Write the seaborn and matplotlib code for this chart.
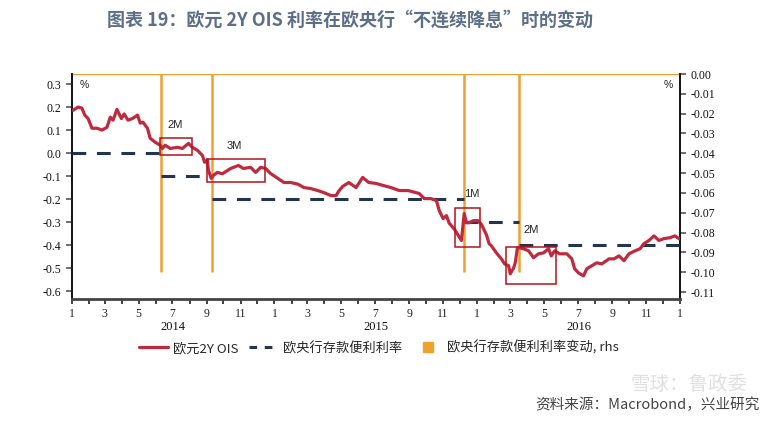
import pandas as pd
import matplotlib
matplotlib.use("Agg")
import matplotlib.pyplot as plt
import matplotlib.dates as mdates
from matplotlib.lines import Line2D
from matplotlib.patches import Rectangle
from matplotlib.ticker import FuncFormatter
import seaborn as sns

# ---- data ----
ois_dates = [
    '2014-01-03', '2014-01-12', '2014-01-19', '2014-01-24', '2014-01-30', '2014-02-06', '2014-02-15',
    '2014-02-24', '2014-03-05', '2014-03-11', '2014-03-16', '2014-03-23', '2014-03-31', '2014-04-05',
    '2014-04-12', '2014-04-20', '2014-04-29', '2014-05-04', '2014-05-09', '2014-05-17', '2014-05-22',
    '2014-05-31', '2014-06-09', '2014-06-13', '2014-06-18', '2014-06-27', '2014-07-10', '2014-07-19',
    '2014-07-30', '2014-08-06', '2014-08-15', '2014-08-24', '2014-08-28', '2014-09-02', '2014-09-04',
    '2014-09-09', '2014-09-13', '2014-09-20', '2014-09-29', '2014-10-14', '2014-10-28', '2014-11-06',
    '2014-11-19', '2014-11-28', '2014-12-07', '2014-12-16', '2014-12-25', '2015-01-07', '2015-01-18',
    '2015-01-30', '2015-02-12', '2015-02-23', '2015-03-07', '2015-03-20', '2015-03-31', '2015-04-13',
    '2015-04-22', '2015-04-27', '2015-05-04', '2015-05-15', '2015-05-28', '2015-06-09', '2015-06-20',
    '2015-07-03', '2015-07-16', '2015-07-30', '2015-08-14', '2015-08-30', '2015-09-13', '2015-09-19',
    '2015-09-28', '2015-10-10', '2015-10-20', '2015-10-25', '2015-11-01', '2015-11-07', '2015-11-12',
    '2015-11-21', '2015-11-28', '2015-12-04', '2015-12-09', '2015-12-13', '2015-12-18', '2015-12-25',
    '2016-01-03', '2016-01-09', '2016-01-18', '2016-01-23', '2016-01-27', '2016-02-05', '2016-02-14',
    '2016-02-20', '2016-02-27', '2016-03-01', '2016-03-07', '2016-03-10', '2016-03-14', '2016-03-18',
    '2016-03-25', '2016-04-03', '2016-04-12', '2016-04-21', '2016-04-30', '2016-05-09', '2016-05-14',
    '2016-05-20', '2016-05-29', '2016-06-11', '2016-06-20', '2016-06-25', '2016-07-02', '2016-07-11',
    '2016-07-17', '2016-07-26', '2016-08-04', '2016-08-13', '2016-08-26', '2016-09-04', '2016-09-13',
    '2016-09-22', '2016-10-01', '2016-10-12', '2016-10-21', '2016-10-28', '2016-11-06', '2016-11-15',
    '2016-11-24', '2016-12-03', '2016-12-14', '2016-12-23', '2016-12-30',
]
ois_values = [
    0.186, 0.200, 0.195, 0.165, 0.150, 0.108, 0.108,
    0.100, 0.112, 0.156, 0.143, 0.190, 0.150, 0.170,
    0.143, 0.150, 0.165, 0.130, 0.134, 0.108, 0.064,
    0.047, 0.034, 0.020, 0.034, 0.020, 0.025, 0.020,
    0.042, 0.025, 0.012, -0.010, -0.040, -0.030, -0.075,
    -0.110, -0.097, -0.084, -0.090, -0.067, -0.054, -0.067,
    -0.062, -0.084, -0.062, -0.067, -0.089, -0.110, -0.128,
    -0.128, -0.135, -0.150, -0.154, -0.163, -0.172, -0.185,
    -0.185, -0.165, -0.145, -0.128, -0.150, -0.106, -0.128,
    -0.132, -0.141, -0.150, -0.163, -0.163, -0.172, -0.176,
    -0.198, -0.198, -0.207, -0.250, -0.285, -0.272, -0.305,
    -0.330, -0.357, -0.380, -0.263, -0.303, -0.303, -0.294,
    -0.294, -0.310, -0.355, -0.394, -0.403, -0.434, -0.460,
    -0.482, -0.490, -0.525, -0.500, -0.477, -0.412, -0.412,
    -0.416, -0.425, -0.455, -0.438, -0.434, -0.416, -0.447,
    -0.425, -0.438, -0.438, -0.460, -0.503, -0.521, -0.534,
    -0.503, -0.490, -0.477, -0.482, -0.460, -0.460, -0.447,
    -0.468, -0.438, -0.425, -0.416, -0.394, -0.380, -0.360,
    -0.380, -0.372, -0.368, -0.360, -0.372,
]

rate_dates = ['2014-01-01', '2014-06-11', '2014-09-10', '2015-12-09', '2016-03-16']
rate_levels = [0.0, -0.1, -0.2, -0.3, -0.4]
cut_dates = ['2014-06-11', '2014-09-10', '2015-12-09', '2016-03-16']
cut_sizes = [-0.10, -0.10, -0.10, -0.10]
box_labels = ['2M', '3M', '1M', '2M']
years = [2014, 2015, 2016]

df = pd.DataFrame({'date': pd.to_datetime(ois_dates), 'ois': ois_values})

RED = '#BF2A3E'
NAVY = '#22344F'
ORANGE = '#EFA02E'
BOXRED = '#B3141C'

sns.set_style('white')
plt.rcParams['font.family'] = ['Noto Sans CJK SC', 'DejaVu Sans']
plt.rcParams['axes.unicode_minus'] = False

fig = plt.figure(figsize=(7.7, 4.21), dpi=100)
ax = fig.add_axes([72 / 770, 1 - 299 / 421, 608 / 770, 225 / 421])
ax2 = ax.twinx()

xmin, xmax = pd.Timestamp('2014-01-01'), pd.Timestamp('2017-01-01')

# deposit rate dashed steps
rd = list(pd.to_datetime(rate_dates)) + [xmax]
ax.hlines(rate_levels, rd[:-1], rd[1:], colors=NAVY, linestyles=(0, (4.5, 3.5)), lw=2.2, zorder=3)

# OIS line
sns.lineplot(data=df, x='date', y='ois', ax=ax, color=RED, lw=2.3, zorder=4)

ax.set_xlim(xmin, xmax)
ax.set_ylim(-0.6345, 0.3437)
ax.set_xlabel('')
ax.set_ylabel('')

# orange changes on the right axis
cuts = pd.to_datetime(cut_dates)
ax2.vlines(cuts, cut_sizes, 0, colors=ORANGE, lw=1.8, zorder=1)
ax2.axhline(0, color=ORANGE, lw=1.6, zorder=1)
ax2.set_ylim(-0.1135, 0.0)

ax.set_zorder(ax2.get_zorder() + 1)
ax.patch.set_visible(False)

# annotation boxes
boxes = [('2014-06-08', '2014-08-05', -0.010, 0.064),
         ('2014-09-01', '2014-12-15', -0.128, -0.028),
         ('2015-11-22', '2016-01-06', -0.407, -0.241),
         ('2016-02-22', '2016-05-22', -0.569, -0.407)]
label_pos = [('2014-07-06', 0.121), ('2014-10-20', 0.029), ('2015-12-23', -0.176), ('2016-04-07', -0.333)]
for (a, b, lo, hi), lab, (lx, ly) in zip(boxes, box_labels, label_pos):
    x0 = mdates.date2num(pd.Timestamp(a))
    x1 = mdates.date2num(pd.Timestamp(b))
    ax.add_patch(Rectangle((x0, lo), x1 - x0, hi - lo, fill=False, ec=BOXRED, lw=1.1, zorder=5))
    ax.text(pd.Timestamp(lx), ly, lab, fontsize=8, family='Liberation Sans', color='#222222',
            ha='center', va='center', zorder=6)

# y axes
ax.set_yticks([0.3, 0.2, 0.1, 0.0, -0.1, -0.2, -0.3, -0.4, -0.5, -0.6])
ax.yaxis.set_major_formatter(FuncFormatter(lambda v, p: '%.1f' % v))
ax2.set_yticks([-0.01 * i for i in range(12)])
ax2.yaxis.set_major_formatter(FuncFormatter(lambda v, p: '%.2f' % (0.0 if abs(v) < 1e-9 else v)))

# x axis: months
ax.xaxis.set_major_locator(mdates.MonthLocator(bymonth=[1, 3, 5, 7, 9, 11]))
ax.xaxis.set_minor_locator(mdates.MonthLocator())
ax.xaxis.set_major_formatter(FuncFormatter(lambda v, p: str(mdates.num2date(v).month)))

for a in (ax, ax2):
    a.tick_params(axis='both', which='both', direction='out', colors='#222222',
                  labelsize=8.5, length=4, width=1.2)
    for lab in a.get_xticklabels() + a.get_yticklabels():
        lab.set_family('Liberation Serif')
ax.tick_params(axis='y', left=True, colors='#555555', labelcolor='#111111')
ax2.tick_params(axis='y', right=True, colors='#555555', labelcolor='#111111')
ax.tick_params(axis='x', which='both', bottom=True, length=3.5, pad=3)

for a in (ax, ax2):
    for s in a.spines.values():
        s.set_color('#111111')
        s.set_linewidth(1.2)
    a.spines['top'].set_visible(False)
ax.spines['bottom'].set_linewidth(2.0)
ax.spines['bottom'].set_color('#444444')
ax2.spines['bottom'].set_visible(False)
ax2.grid(False)
ax.grid(False)

for y in years:
    ax.text(pd.Timestamp('%d-07-02' % y), -0.125, str(y), transform=ax.get_xaxis_transform(),
            ha='center', va='center', fontsize=9, family='Liberation Serif', color='#111111')

ax.text(0.012, 0.975, '%', transform=ax.transAxes, fontsize=7.5, family='Liberation Sans',
        ha='left', va='top', color='#222222')
ax.text(0.988, 0.975, '%', transform=ax.transAxes, fontsize=7.5, family='Liberation Sans',
        ha='right', va='top', color='#222222')

# legend
handles = [Line2D([], [], color=RED, lw=2.3),
           Line2D([], [], color=NAVY, lw=2.2, ls=(0, (2.5, 2.5))),
           Line2D([], [], color=ORANGE, marker='s', ls='', ms=7)]
labels = ['欧元2Y OIS', '欧央行存款便利利率', '欧央行存款便利利率变动, rhs']
fig.legend(handles, labels, loc='center', bbox_to_anchor=(379 / 770, 1 - 348 / 421), ncol=3,
           frameon=False, fontsize=9.5, handlelength=2.2, handletextpad=0.4, columnspacing=0.8)

# title and source
fig.text(107 / 770, 1 - 20 / 421, '图表 19：欧元 2Y OIS 利率在欧央行“不连续降息”时的变动',
         ha='left', va='center', fontsize=13, fontweight='bold', color='#5D6F88')
fig.text(760 / 770, 1 - 405 / 421, '资料来源：Macrobond，兴业研究', ha='right', va='center',
         fontsize=10.5, color='#444444')
fig.text(748 / 770, 1 - 384 / 421, '雪球：鲁政委', ha='right', va='center',
         fontsize=14, color='#BBBBBB', alpha=0.45)

fig.savefig('out.png', dpi=100)
